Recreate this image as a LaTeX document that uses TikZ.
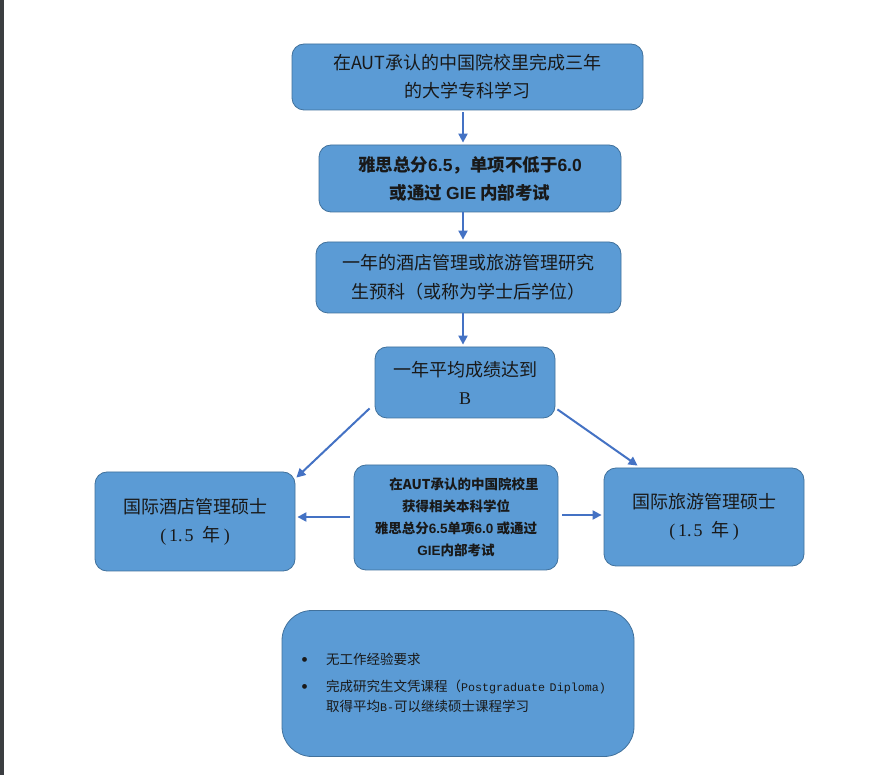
\documentclass[tikz,border=0pt]{standalone}
\usepackage{fontspec}
\usetikzlibrary{arrows.meta}
\setmainfont{Liberation Serif}
\newfontfamily\cjk{Noto Sans CJK SC}
\newfontfamily\arialb{Liberation Sans}
\newfontfamily\courier{Liberation Mono}
\definecolor{boxfill}{HTML}{5B9BD5}
\definecolor{boxline}{HTML}{41719C}
\definecolor{arrowblue}{HTML}{4472C4}
\definecolor{leftbar}{HTML}{3B3E41}
\newcommand{\yrs}{{\rmfamily(\kern3pt1.\kern2pt5}\hspace{9pt}年{\rmfamily\kern3pt)}}
\newcommand{\dotmark}{\raisebox{-2pt}{\rmfamily\fontsize{20}{20}\selectfont\textbullet}}
\begin{document}
\begin{tikzpicture}[x=1pt,y=-1pt,
  box/.style={draw=boxline,line width=0.8pt,fill=boxfill,rounded corners=12pt,align=center,inner sep=0pt,text=black!90},
  arr/.style={draw=arrowblue,line width=2pt,-{Triangle[length=9pt,width=9pt]}},
  big/.style={font=\cjk\fontsize{18}{28}\selectfont}]
        \useasboundingbox (0,0) rectangle (895,775);
        \fill[white] (0,0) rectangle (895,775);
        \fill[leftbar] (0,0) rectangle (4,775);
        \coordinate (ax) at (463,0);
        \coordinate (ay) at (0,517);
        \coordinate (by) at (0,515);
        \node[box,big,minimum width=351,minimum height=66] (b1) at (467.5,77) {在AUT承认的中国院校里完成三年\\的大学专科学习};
        \node[box,font=\cjk\bfseries\fontsize{17.5}{28}\selectfont,minimum width=302,minimum height=67] (b2) at (470,178.5) {雅思总分{\arialb\bfseries 6.5}，单项不低于{\arialb\bfseries 6.0}\\或通过 {\arialb\bfseries GIE} 内部考试};
        \node[box,font=\cjk\fontsize{18}{29}\selectfont,minimum width=305,minimum height=71] (b3) at (468.5,277.5) {一年的酒店管理或旅游管理研究\\生预科（或称为学士后学位）};
        \node[box,big,minimum width=180,minimum height=71] (b4) at (465,382.5) {一年平均成绩达到\\{\rmfamily B}};
        \node[box,big,minimum width=200,minimum height=99] (bl) at (195,521.5) {国际酒店管理硕士\\\yrs};
        \node[box,font=\cjk\bfseries\fontsize{13.5}{22}\selectfont,minimum width=204,minimum height=105] (bm) at (456,517.5) {\hspace*{16pt}在AUT承认的中国院校里\\获得相关本科学位\\雅思总分{\arialb\bfseries 6.5}单项{\arialb\bfseries 6.0} 或通过\\{\arialb\bfseries GIE}内部考试};
        \node[box,big,minimum width=200,minimum height=98] (br) at (704,517) {国际旅游管理硕士\\\yrs};
        \node[box,rounded corners=30pt,minimum width=352,minimum height=146,text width=314,inner xsep=19pt,align=left,font=\cjk\fontsize{13.5}{20}\selectfont] (nb) at (458,683.5) {\begin{tabular}{@{}l@{\hspace{18pt}}l@{}}\dotmark & 无工作经验要求\\[7pt]
\dotmark & 完成研究生文凭课程（{\courier\fontsize{11.7}{20}\selectfont Postgraduate Diploma)}\\
 & 取得平均{\courier\fontsize{11.7}{20}\selectfont B-}可以继续硕士课程学习\end{tabular}};
        \draw[arr,shorten <=2pt,shorten >=2pt] (b1.south -| ax) -- (b2.north -| ax);
        \draw[arr,shorten >=2pt] (b2.south -| ax) -- (b3.north -| ax);
        \draw[arr,shorten >=2pt] (b3.south -| ax) -- (b4.north -| ax);
        \draw[arr] ([shift={(-5,-10)}]b4.south west) -- ([shift={(1,6)}]bl.north east);
        \draw[arr] ([shift={(2,-9)}]b4.south east) -- ([shift={(34,-2)}]br.north west);
        \draw[arr,shorten <=4pt,shorten >=2pt] (bm.west |- ay) -- (bl.east |- ay);
        \draw[arr,shorten <=4pt,shorten >=2pt] (bm.east |- by) -- (br.west |- by);
      \end{tikzpicture}
\end{document}
